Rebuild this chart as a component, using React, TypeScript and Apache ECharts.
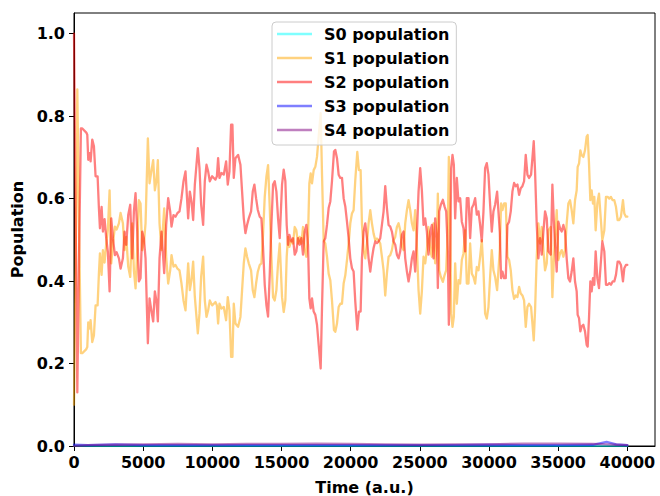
import React, { useEffect, useRef } from "react";
import * as echarts from "echarts";

const seriesNames = ["S0 population", "S1 population", "S2 population", "S3 population", "S4 population"];
const seriesColors = [
  "rgba(0,255,255,0.5)",
  "rgba(255,165,0,0.5)",
  "rgba(255,0,0,0.5)",
  "rgba(0,0,255,0.5)",
  "rgba(128,0,128,0.5)",
];

const xTicks = [0, 5000, 10000, 15000, 20000, 25000, 30000, 35000, 40000];
const yTicks = [0, 0.2, 0.4, 0.6, 0.8, 1.0];

// main time grid (a.u.)
const times = [
  0, 120, 240, 360, 500, 600, 890, 960, 1030, 1130, 1200, 1320, 1440, 1560, 1706, 1800, 1875, 1995, 2090, 2210,
  2330, 2450, 2573, 2693, 2813, 2958, 3078, 3247, 3367, 3535, 3656, 3776, 3920, 4065, 4210, 4330, 4450, 4570, 4690, 4810,
  4931, 5051, 5172, 5340, 5461, 5605, 5725, 5846, 5966, 6062, 6183, 6327, 6520, 6664, 6808, 6953, 7049, 7194, 7338, 7482,
  7627, 7771, 7916, 8060, 8156, 8253, 8373, 8493, 8614, 8734, 8951, 9071, 9191, 9336, 9456, 9577, 9697, 9817, 9985, 10105,
  10226, 10330, 10418, 10515, 10659, 10827, 10996, 11116, 11237, 11357, 11453, 11550, 11670, 11862, 12031, 12151, 12272, 12392, 12512, 12633,
  12801, 12922, 13042, 13162, 13283, 13427, 13547, 13668, 13788, 13909, 14029, 14149, 14270, 14390, 14510, 14631, 14751, 14871, 15039, 15159,
  15280, 15376, 15472, 15569, 15713, 15833, 15954, 16074, 16194, 16315, 16435, 16555, 16676, 16796, 16916, 17013, 17109, 17205, 17326, 17446,
  17566, 17687, 17831, 17927, 18048, 18168, 18288, 18409, 18529, 18649, 18794, 18890, 19011, 19131, 19251, 19372, 19492, 19612, 19733, 19853,
  19973, 20093, 20213, 20334, 20478, 20598, 20719, 20815, 20935, 21056, 21176, 21296, 21417, 21537, 21657, 21778, 21898, 22018, 22139, 22259,
  22380, 22500, 22620, 22741, 22861, 22981, 23102, 23222, 23342, 23463, 23583, 23703, 23824, 23944, 24065, 24185, 24305, 24426, 24546, 24666,
  24787, 24907, 25027, 25147, 25267, 25388, 25508, 25628, 25749, 25869, 25989, 26110, 26230, 26302, 26399, 26519, 26663, 26784, 26904, 27024,
  27097, 27193, 27265, 27361, 27458, 27554, 27674, 27795, 27915, 28035, 28156, 28276, 28396, 28517, 28637, 28757, 28878, 28998, 29118, 29239,
  29359, 29479, 29600, 29720, 29840, 29961, 30081, 30201, 30321, 30442, 30586, 30682, 30779, 30875, 30971, 31092, 31212, 31332, 31453, 31573,
  31693, 31814, 31934, 32055, 32175, 32295, 32416, 32536, 32656, 32777, 32897, 33041, 33138, 33234, 33330, 33451, 33571, 33691, 33812, 33932,
  34052, 34173, 34293, 34461, 34582, 34678, 34774, 34895, 35015, 35136, 35255, 35376, 35496, 35616, 35736, 35857, 35977, 36097, 36218, 36338,
  36410, 36507, 36603, 36699, 36820, 36940, 37060, 37133, 37229, 37325, 37421, 37518, 37614, 37710, 37831, 37951, 38071, 38192, 38336, 38456,
  38577, 38697, 38817, 38938, 39058, 39178, 39299, 39419, 39539, 39684, 39780, 39900, 40000,
];

const s2Values = [
  1.0, 0.55, 0.13, 0.45, 0.77, 0.77, 0.76, 0.755, 0.694, 0.71, 0.69, 0.743, 0.727, 0.654, 0.654, 0.577, 0.528, 0.58, 0.52, 0.55,
  0.504, 0.47, 0.375, 0.552, 0.504, 0.463, 0.47, 0.455, 0.43, 0.455, 0.52, 0.488, 0.56, 0.585, 0.455, 0.569, 0.613, 0.52, 0.399, 0.407,
  0.52, 0.504, 0.455, 0.249, 0.358, 0.326, 0.302, 0.375, 0.35, 0.302, 0.455, 0.52, 0.419, 0.536, 0.601, 0.569, 0.532, 0.56, 0.556, 0.565,
  0.569, 0.601, 0.642, 0.666, 0.609, 0.552, 0.617, 0.593, 0.548, 0.633, 0.722, 0.674, 0.585, 0.536, 0.642, 0.682, 0.666, 0.642, 0.654, 0.65,
  0.646, 0.654, 0.698, 0.65, 0.662, 0.658, 0.69, 0.634, 0.666, 0.779, 0.779, 0.65, 0.698, 0.706, 0.682, 0.617, 0.552, 0.516, 0.536, 0.552,
  0.569, 0.617, 0.634, 0.601, 0.573, 0.556, 0.552, 0.48, 0.391, 0.342, 0.314, 0.415, 0.536, 0.634, 0.642, 0.617, 0.552, 0.504, 0.634, 0.67,
  0.642, 0.536, 0.488, 0.512, 0.496, 0.504, 0.464, 0.472, 0.504, 0.488, 0.504, 0.464, 0.52, 0.536, 0.488, 0.358, 0.334, 0.358, 0.326, 0.318,
  0.294, 0.245, 0.188, 0.334, 0.496, 0.504, 0.536, 0.577, 0.593, 0.642, 0.714, 0.718, 0.698, 0.658, 0.65, 0.65, 0.601, 0.581, 0.544, 0.504,
  0.455, 0.431, 0.423, 0.35, 0.282, 0.326, 0.326, 0.455, 0.52, 0.54, 0.504, 0.455, 0.423, 0.455, 0.48, 0.496, 0.492, 0.496, 0.504, 0.536,
  0.569, 0.63, 0.577, 0.536, 0.532, 0.52, 0.496, 0.488, 0.464, 0.455, 0.472, 0.512, 0.52, 0.455, 0.423, 0.399, 0.423, 0.455, 0.472, 0.423,
  0.512, 0.617, 0.674, 0.62, 0.536, 0.552, 0.52, 0.464, 0.52, 0.536, 0.455, 0.552, 0.504, 0.383, 0.569, 0.585, 0.597, 0.581, 0.569, 0.472,
  0.294, 0.455, 0.674, 0.706, 0.682, 0.552, 0.65, 0.593, 0.601, 0.544, 0.528, 0.472, 0.601, 0.601, 0.504, 0.577, 0.585, 0.601, 0.561, 0.569,
  0.536, 0.496, 0.569, 0.674, 0.686, 0.658, 0.585, 0.52, 0.569, 0.585, 0.617, 0.569, 0.52, 0.407, 0.423, 0.407, 0.407, 0.536, 0.544, 0.569,
  0.617, 0.638, 0.63, 0.634, 0.609, 0.625, 0.63, 0.642, 0.706, 0.658, 0.65, 0.658, 0.698, 0.739, 0.666, 0.536, 0.455, 0.504, 0.464, 0.52,
  0.569, 0.552, 0.472, 0.464, 0.634, 0.552, 0.488, 0.423, 0.544, 0.528, 0.52, 0.536, 0.52, 0.455, 0.407, 0.399, 0.423, 0.455, 0.399, 0.375,
  0.318, 0.31, 0.278, 0.29, 0.294, 0.278, 0.245, 0.241, 0.31, 0.399, 0.375, 0.407, 0.391, 0.472, 0.407, 0.383, 0.439, 0.496, 0.472, 0.391,
  0.391, 0.395, 0.391, 0.399, 0.399, 0.415, 0.447, 0.447, 0.439, 0.399, 0.431, 0.439, 0.439,
];

const s1Values = [
  0.1, 0.445, 0.865, 0.545, 0.225, 0.225, 0.235, 0.24, 0.3, 0.285, 0.305, 0.252, 0.268, 0.341, 0.341, 0.418, 0.467, 0.415, 0.475, 0.445,
  0.491, 0.525, 0.62, 0.443, 0.491, 0.532, 0.525, 0.54, 0.565, 0.54, 0.475, 0.507, 0.435, 0.41, 0.54, 0.426, 0.382, 0.475, 0.596, 0.588,
  0.475, 0.491, 0.54, 0.746, 0.637, 0.669, 0.693, 0.62, 0.645, 0.693, 0.54, 0.475, 0.576, 0.459, 0.394, 0.426, 0.463, 0.435, 0.439, 0.43,
  0.426, 0.394, 0.353, 0.329, 0.386, 0.443, 0.378, 0.402, 0.447, 0.362, 0.273, 0.321, 0.41, 0.459, 0.353, 0.313, 0.329, 0.353, 0.341, 0.345,
  0.349, 0.341, 0.297, 0.345, 0.333, 0.337, 0.305, 0.361, 0.329, 0.216, 0.216, 0.345, 0.297, 0.289, 0.313, 0.378, 0.443, 0.479, 0.459, 0.443,
  0.426, 0.378, 0.361, 0.394, 0.422, 0.439, 0.443, 0.515, 0.604, 0.653, 0.681, 0.58, 0.459, 0.361, 0.353, 0.378, 0.443, 0.491, 0.361, 0.325,
  0.353, 0.459, 0.507, 0.483, 0.499, 0.491, 0.531, 0.523, 0.491, 0.507, 0.491, 0.531, 0.475, 0.459, 0.507, 0.637, 0.661, 0.637, 0.669, 0.677,
  0.701, 0.75, 0.807, 0.661, 0.499, 0.491, 0.459, 0.418, 0.402, 0.353, 0.281, 0.277, 0.297, 0.337, 0.345, 0.345, 0.394, 0.414, 0.451, 0.491,
  0.54, 0.564, 0.572, 0.645, 0.713, 0.669, 0.669, 0.54, 0.475, 0.455, 0.491, 0.54, 0.572, 0.54, 0.515, 0.499, 0.503, 0.499, 0.491, 0.459,
  0.426, 0.365, 0.418, 0.459, 0.463, 0.475, 0.499, 0.507, 0.531, 0.54, 0.523, 0.483, 0.475, 0.54, 0.572, 0.596, 0.572, 0.54, 0.523, 0.572,
  0.483, 0.378, 0.321, 0.375, 0.459, 0.443, 0.475, 0.531, 0.475, 0.459, 0.54, 0.443, 0.491, 0.612, 0.426, 0.41, 0.398, 0.414, 0.426, 0.523,
  0.701, 0.54, 0.321, 0.289, 0.313, 0.443, 0.345, 0.402, 0.394, 0.451, 0.467, 0.523, 0.394, 0.394, 0.491, 0.418, 0.41, 0.394, 0.434, 0.426,
  0.459, 0.499, 0.426, 0.321, 0.309, 0.337, 0.41, 0.475, 0.426, 0.41, 0.378, 0.426, 0.475, 0.588, 0.572, 0.588, 0.588, 0.459, 0.451, 0.426,
  0.378, 0.357, 0.365, 0.361, 0.386, 0.37, 0.365, 0.353, 0.289, 0.337, 0.345, 0.337, 0.297, 0.256, 0.329, 0.459, 0.54, 0.491, 0.531, 0.475,
  0.426, 0.443, 0.523, 0.531, 0.361, 0.443, 0.507, 0.572, 0.451, 0.467, 0.475, 0.459, 0.475, 0.54, 0.588, 0.596, 0.572, 0.54, 0.596, 0.62,
  0.677, 0.685, 0.717, 0.705, 0.701, 0.717, 0.75, 0.754, 0.685, 0.596, 0.62, 0.588, 0.604, 0.523, 0.588, 0.612, 0.556, 0.499, 0.523, 0.604,
  0.604, 0.6, 0.604, 0.596, 0.596, 0.58, 0.548, 0.548, 0.556, 0.596, 0.564, 0.556, 0.556,
];

// minor species, sampled more coarsely
const timesMinor = [0, 1000, 3000, 5000, 7500, 10000, 12500, 15000, 17500, 20000, 22500, 25000, 27500, 30000, 32500, 35000, 37500, 38500, 39200, 40000];
const s0Values = [0.001, 0.0, 0.0, 0.0, 0.0, 0.0, 0.0, 0.0, 0.0, 0.0, 0.0, 0.0, 0.0, 0.0, 0.0, 0.0, 0.0, 0.0, 0.0, 0.0];
const s3Values = [0.003, 0.002, 0.004, 0.002, 0.002, 0.002, 0.002, 0.002, 0.002, 0.002, 0.002, 0.002, 0.002, 0.003, 0.002, 0.002, 0.003, 0.01, 0.004, 0.002];
const s4Values = [0.0, 0.002, 0.003, 0.004, 0.005, 0.004, 0.005, 0.005, 0.006, 0.005, 0.004, 0.003, 0.004, 0.004, 0.006, 0.006, 0.005, 0.004, 0.003, 0.002];

const FONT = "DejaVu Sans";

function pairs(ts: number[], vs: number[]) {
  return ts.map((t, i) => [t, vs[i]]);
}

export default function App() {
  const ref = useRef<HTMLDivElement>(null);
  useEffect(() => {
    if (!ref.current) return;
    const chart = echarts.init(ref.current, undefined, { renderer: "svg" });
    const dataSets = [
      pairs(timesMinor, s0Values),
      pairs(times, s1Values),
      pairs(times, s2Values),
      pairs(timesMinor, s3Values),
      pairs(timesMinor, s4Values),
    ];
    const labelStyle = { fontFamily: FONT, fontWeight: "bold" as const, fontSize: 16, color: "#000" };
    chart.setOption({
      animation: false,
      backgroundColor: "#fff",
      grid: {
        left: 74,
        right: 5,
        top: 13,
        bottom: 50,
        show: true,
        borderColor: "#000",
        borderWidth: 1,
        backgroundColor: "transparent",
        containLabel: false,
        outerBoundsMode: "none",
      },
      legend: {
        show: true,
        orient: "vertical",
        left: 272,
        top: 22,
        data: seriesNames.map((name, i) => ({ name, icon: "rect", itemStyle: { color: seriesColors[i] } })),
        itemWidth: 35,
        itemHeight: 2.5,
        itemGap: 8,
        padding: [4, 7, 7, 5],
        backgroundColor: "rgba(255,255,255,0.8)",
        borderColor: "#cccccc",
        borderWidth: 1,
        borderRadius: 4,
        textStyle: { ...labelStyle, padding: [0, 0, 0, 7] },
        selectedMode: false,
        z: 10,
      },
      xAxis: {
        type: "value",
        min: 0,
        max: 42000,
        name: "Time (a.u.)",
        nameLocation: "middle",
        nameGap: 33,
        nameTextStyle: labelStyle,
        axisLine: { show: true, onZero: false, lineStyle: { color: "#000", width: 1 } },
        axisTick: { show: true, length: 5, inside: false, customValues: xTicks, lineStyle: { color: "#000", width: 1 } },
        axisLabel: { ...labelStyle, margin: 8, customValues: xTicks, formatter: (v: number) => String(v) },
        splitLine: { show: false },
      },
      yAxis: {
        type: "value",
        min: 0,
        max: 1.05,
        name: "Population",
        nameLocation: "middle",
        nameGap: 43,
        nameTextStyle: labelStyle,
        axisLine: { show: true, onZero: false, lineStyle: { color: "#000", width: 1 } },
        axisTick: { show: true, length: 5, inside: false, customValues: yTicks, lineStyle: { color: "#000", width: 1 } },
        axisLabel: { ...labelStyle, margin: 9, customValues: yTicks, formatter: (v: number) => v.toFixed(1) },
        splitLine: { show: false },
      },
      series: seriesNames.map((name, i) => ({
        name,
        type: "line",
        data: dataSets[i],
        showSymbol: false,
        symbol: "none",
        lineStyle: { color: seriesColors[i], width: 2.3, join: "round", cap: "round" },
        itemStyle: { color: seriesColors[i] },
        color: seriesColors[i],
        z: 2 + i,
      })),
    });
    return () => chart.dispose();
  }, []);
  return <div ref={ref} style={{ position: "fixed", left: 0, top: 0, width: 660, height: 496 }} />;
}
